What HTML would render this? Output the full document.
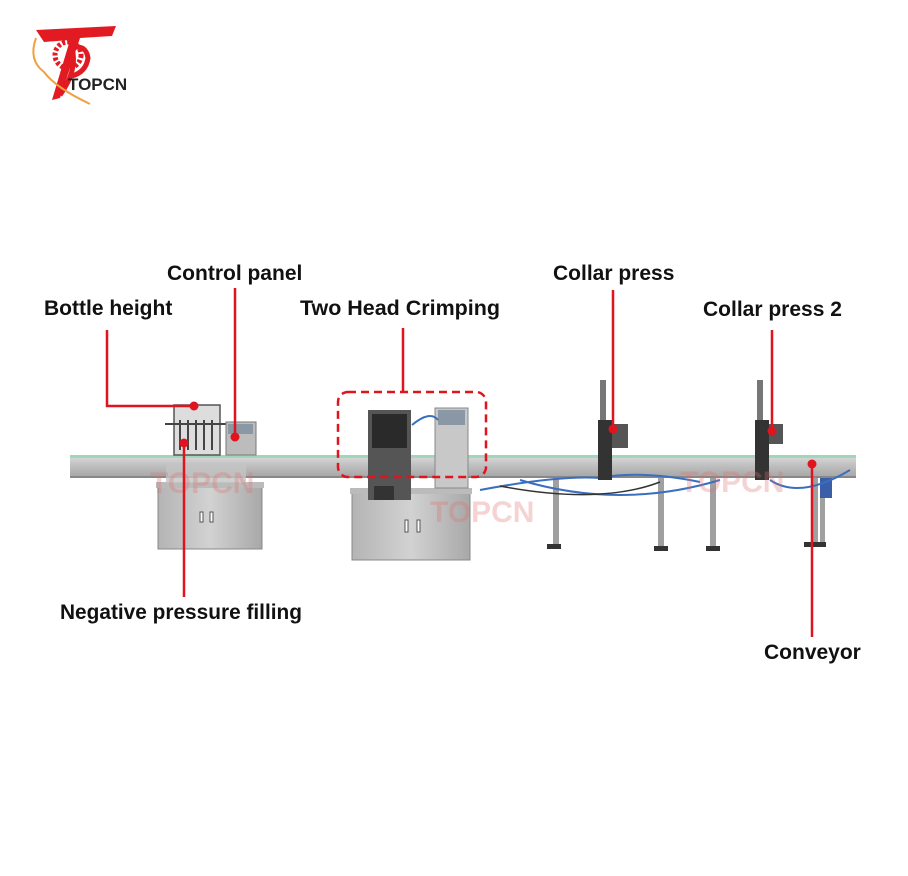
<!DOCTYPE html>
<html><head><style>
html,body{margin:0;padding:0;background:#fff;}
svg{display:block}
text{font-family:"Liberation Sans",Arial,sans-serif;font-weight:bold;}
</style></head><body>
<svg width="908" height="876" viewBox="0 0 908 876" xmlns="http://www.w3.org/2000/svg">
<defs>
<linearGradient id="steel" x1="0" y1="0" x2="0" y2="1">
<stop offset="0" stop-color="#dcdcdc"/><stop offset="0.5" stop-color="#bdbdbd"/><stop offset="1" stop-color="#a5a5a5"/>
</linearGradient>
<linearGradient id="cab" x1="0" y1="0" x2="1" y2="0">
<stop offset="0" stop-color="#b4b4b4"/><stop offset="0.5" stop-color="#d2d2d2"/><stop offset="1" stop-color="#a8a8a8"/>
</linearGradient>
</defs>
<!-- logo -->
<g>
<path d="M36 30 L116 26 L112 36 L80 38 L60 98 L52 100 L70 40 L44 42 Z" fill="#e21b23"/>
<circle cx="68" cy="55" r="13" fill="none" stroke="#e21b23" stroke-width="5" stroke-dasharray="3 2"/>
<path d="M60 95 Q78 70 72 48 Q86 44 88 58 Q86 72 72 76" fill="none" stroke="#e21b23" stroke-width="5"/>
<path d="M36 38 Q28 60 44 72 Q56 88 90 104" fill="none" stroke="#f0a040" stroke-width="2"/>
<text x="68" y="90" font-size="17" fill="#222">TOPCN</text>
</g>
<!-- conveyor -->
<rect x="70" y="455" width="786" height="23" fill="url(#steel)"/>
<rect x="70" y="455" width="786" height="3" fill="#9fd8b8"/>
<rect x="70" y="476" width="786" height="2" fill="#888"/>
<!-- legs -->
<g fill="#a0a0a0">
<rect x="553" y="478" width="6" height="66"/><rect x="658" y="478" width="6" height="70"/>
<rect x="710" y="478" width="6" height="68"/><rect x="812" y="478" width="6" height="64"/>
<rect x="820" y="478" width="5" height="66"/>
</g>
<g fill="#333"><rect x="547" y="544" width="14" height="5"/><rect x="654" y="546" width="14" height="5"/><rect x="706" y="546" width="14" height="5"/><rect x="804" y="542" width="22" height="5"/></g>
<rect x="820" y="478" width="12" height="20" fill="#3a5ea8"/>
<!-- hoses -->
<path d="M480 490 Q560 475 600 478 Q640 470 700 482 M520 480 Q620 510 720 480 M770 480 Q800 500 850 470" fill="none" stroke="#3a6fc0" stroke-width="2"/>
<path d="M500 486 Q600 505 660 482" fill="none" stroke="#333" stroke-width="1.5"/>
<!-- machine 1 -->
<rect x="158" y="487" width="104" height="62" fill="url(#cab)" stroke="#888"/>
<rect x="156" y="482" width="108" height="6" fill="#bbb"/>
<rect x="200" y="512" width="3" height="10" fill="#fff" stroke="#555"/><rect x="210" y="512" width="3" height="10" fill="#fff" stroke="#555"/>
<rect x="166" y="463" width="80" height="20" fill="#c4c4c4" opacity="0.8"/>
<rect x="174" y="405" width="46" height="50" fill="#ddd" stroke="#555" stroke-width="1.5"/>
<g stroke="#444" stroke-width="2"><line x1="180" y1="420" x2="180" y2="450"/><line x1="188" y1="420" x2="188" y2="450"/><line x1="196" y1="420" x2="196" y2="450"/><line x1="204" y1="420" x2="204" y2="450"/><line x1="212" y1="420" x2="212" y2="450"/><line x1="165" y1="424" x2="230" y2="424"/></g>
<rect x="226" y="422" width="30" height="33" fill="#bcbcbc" stroke="#777"/>
<rect x="228" y="424" width="25" height="10" fill="#8a97a4"/>
<!-- machine 2 -->
<rect x="352" y="490" width="118" height="70" fill="url(#cab)" stroke="#888"/>
<rect x="350" y="488" width="122" height="6" fill="#bbb"/>
<rect x="405" y="520" width="3" height="12" fill="#fff" stroke="#555"/><rect x="417" y="520" width="3" height="12" fill="#fff" stroke="#555"/>
<rect x="368" y="410" width="43" height="90" fill="#555"/>
<rect x="372" y="414" width="35" height="34" fill="#2a2a2a"/>
<rect x="374" y="486" width="20" height="14" fill="#333"/>
<rect x="435" y="408" width="33" height="80" fill="#c8c8c8" stroke="#888"/>
<rect x="438" y="410" width="27" height="15" fill="#8a97a4"/>
<path d="M412 425 Q430 410 438 420" fill="none" stroke="#3a6fc0" stroke-width="2"/>
<!-- collar presses -->
<rect x="600" y="380" width="6" height="45" fill="#777"/>
<rect x="598" y="420" width="14" height="60" fill="#333"/>
<rect x="612" y="424" width="16" height="24" fill="#555"/>
<rect x="757" y="380" width="6" height="45" fill="#777"/>
<rect x="755" y="420" width="14" height="60" fill="#333"/>
<rect x="769" y="424" width="14" height="20" fill="#555"/>
<!-- watermarks -->
<g fill="#e07070" opacity="0.3" font-size="30">
<text x="150" y="493">TOPCN</text><text x="430" y="522">TOPCN</text><text x="680" y="492">TOPCN</text>
</g>
<!-- annotations -->
<g stroke="#e0141e" stroke-width="2.5" fill="none">
<polyline points="107,330 107,406 194,406"/>
<line x1="235" y1="288" x2="235" y2="437"/>
<line x1="184" y1="443" x2="184" y2="597"/>
<line x1="403" y1="328" x2="403" y2="392"/>
<line x1="613" y1="290" x2="613" y2="429"/>
<line x1="772" y1="330" x2="772" y2="431"/>
<line x1="812" y1="464" x2="812" y2="637"/>
<rect x="338" y="392" width="148" height="85" rx="10" stroke-dasharray="8 5"/>
</g>
<g fill="#e0141e">
<circle cx="194" cy="406" r="4.5"/><circle cx="235" cy="437" r="4.5"/><circle cx="184" cy="443" r="4.5"/>
<circle cx="613" cy="429" r="4.5"/><circle cx="772" cy="431" r="4.5"/><circle cx="812" cy="464" r="4.5"/>
</g>
<g font-size="21" fill="#111">
<text x="167" y="280">Control panel</text>
<text x="44" y="315">Bottle height</text>
<text x="300" y="315" textLength="200" lengthAdjust="spacingAndGlyphs">Two Head Crimping</text>
<text x="553" y="280">Collar press</text>
<text x="703" y="316">Collar press 2</text>
<text x="60" y="619" textLength="242" lengthAdjust="spacingAndGlyphs">Negative pressure filling</text>
<text x="764" y="659">Conveyor</text>
</g>
</svg>
</body></html>
